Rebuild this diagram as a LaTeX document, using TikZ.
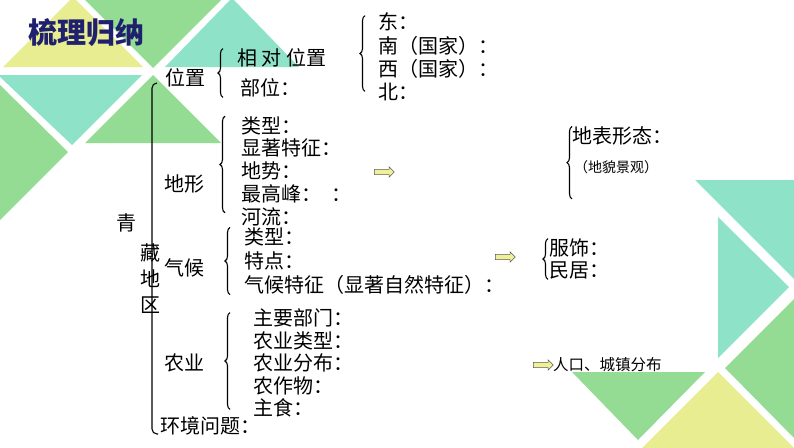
\documentclass[tikz,border=0pt]{standalone}
\usepackage{fontspec}
\setmainfont{Noto Sans CJK SC}
\usepackage{tikz}
\usetikzlibrary{
	shapes.arrows,decorations.pathreplacing,positioning
}
\definecolor{tileyellow}{RGB}{232,237,145}
\definecolor{tilegreen}{RGB}{148,220,148}
\definecolor{tileteal}{RGB}{142,226,200}
\definecolor{titlenavy}{RGB}{31,32,110}
\definecolor{arrowfill}{RGB}{240,240,150}
\tikzset{
  title/.style={
    font=\fontsize{29}{31}\selectfont\bfseries, text=titlenavy, inner sep=0pt
  },
  %
  head/.style={
    font=\fontsize{20}{22}\selectfont, inner sep=0pt
  },
  %
  items/.style={
    anchor=west, align=left, inner sep=0pt, font=\fontsize{20}{#1}\selectfont
  },
  items/.default=22.7,
  %
  note/.style={
    anchor=west, inner sep=0pt, font=\fontsize{#1}{#1}\selectfont
  },
  %
  brace/.style={
    decorate, decoration={brace, amplitude=5pt, aspect=0.5}, line width=1.1pt
  },
  %
  hollow/.style={
    single arrow, draw=black!65, fill=arrowfill, line width=0.6pt,
    inner xsep=6pt, inner ysep=2.3pt, text height=0pt, text depth=0pt,
    minimum height=20pt, single arrow head extend=2.6pt, single arrow head indent=0pt
  }
}

\begin{document}
\begin{tikzpicture}[x=1pt,y=-1pt]
\useasboundingbox (0,0) rectangle (794,447);

% tangram tiles, top left
\fill[tileyellow] (3,67) -- (143,67) -- (73,-3) -- cycle;
\fill[tilegreen] (82,-3) -- (224,-3) -- (153,68) -- cycle;
\fill[tileteal] (232,-2) -- (165,67) -- (299,67) -- cycle;
\fill[tileteal] (-2,75) -- (142,75) -- (72,145) -- cycle;
\fill[tilegreen] (-2,83) -- (-2,222) -- (68,152) -- cycle;
\fill[tilegreen] (153,75) -- (85,143) -- (221,143) -- cycle;
% tangram tiles, bottom right
\fill[tileteal] (695,180) -- (796,180) -- (796,281) -- cycle;
\fill[tileteal] (718,217) -- (718,358) -- (789,287) -- cycle;
\fill[tilegreen] (725,368) -- (796,297) -- (796,440) -- cycle;
\fill[tileyellow] (718,372) -- (640,450) -- (796,450) -- cycle;
\fill[tilegreen] (572,372) -- (705,372) -- (638,440) -- cycle;

\node(title)[title] at (86,33) {梳理归纳};

\node(qing)[head] at (126,223) {青};
\node(zang)[head, align=center, font=\fontsize{20}{26}\selectfont] at (150,279) {藏\\地\\区};

\node(loc)[head] at (185,78) {位置};
\node(terrain)[head] at (184,184) {地形};
\node(climate)[head] at (184,268) {气候};
\node(farm)[head] at (184,363) {农业};
\node(env)[note=20] at (160,426) {环境问题：};

\node(locitems)[items=22] at (237,73) {相 对 位置\\[8pt]\hspace{3pt}部位：};
\node(dirs)[items=23.3] at (378,57) {东：\\南（国家）：\\西（国家）：\\北：};
\node(terrainitems)[items] at (241,171) {类型：\\显著特征：\\地势：\\最高峰：\hspace{10pt}：\\河流：};
\node(climateitems)[items=24] at (244,261) {类型：\\特点：\\气候特征（显著自然特征）：};
\node(farmitems)[items=22.5] at (253,363) {主要部门：\\农业类型：\\农业分布：\\农作物：\\主食：};

\node(surface)[note=20] at (572,136) {地表形态：};
\node(scenery)[note=14] at (574,167) {（地貌景观）};
\node(custom)[items=22] at (549,259) {服饰：\\民居：};
\node(people)[note=15.5] at (553,365) {人口、城镇分布};

\node(arr1)[hollow] at (383,172) {};
\node(arr2)[hollow] at (504,257) {};
\node(arr3)[hollow] at (542,365) {};

% braces
\coordinate (bartop) at (157,83);
\coordinate (barbot) at (158,434);
\draw[line width=1.1pt, rounded corners=5pt] (bartop) -- ++(-5,0) |- (barbot);
\draw[brace] ([xshift=-14pt]locitems.south west) -- ([xshift=-14pt]locitems.north west);
\draw[brace] ([xshift=-13pt,yshift=10pt]dirs.south west) -- ([xshift=-13pt,yshift=-3pt]dirs.north west);
\draw[brace] ([xshift=-16pt,yshift=13pt]terrainitems.south west) -- ([xshift=-16pt]terrainitems.north west);
\draw[brace] ([xshift=-14pt]climateitems.south west) -- ([xshift=-14pt]climateitems.north west);
\draw[brace] ([xshift=-23pt,yshift=8pt]farmitems.south west) -- ([xshift=-23pt,yshift=-4pt]farmitems.north west);
\draw[brace] ([xshift=-2pt,yshift=-25pt]scenery.south west) -- ([xshift=0pt]surface.north west);
\draw[brace] ([xshift=-1pt]custom.south west) -- ([xshift=-1pt]custom.north west);

\end{tikzpicture}
\end{document}
